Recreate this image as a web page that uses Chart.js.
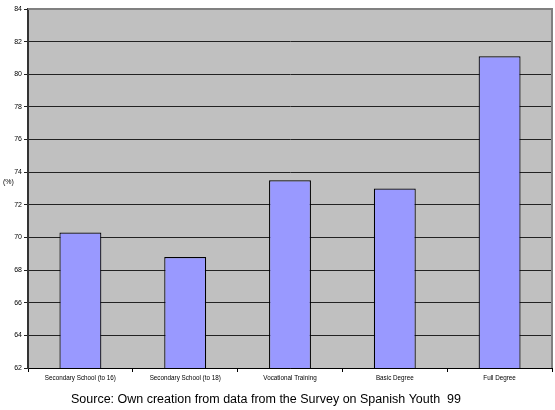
<!DOCTYPE html>
<html>
<head>
<meta charset="utf-8">
<script src="https://cdn.jsdelivr.net/npm/chart.js@4"></script>
<style>
    body { margin: 0; background: #fff; }
    canvas { display: block; }
</style>
</head>
<body>
<canvas id="myChart" width="555" height="410"></canvas>
<script>
var categories = ['Secondary School (to 16)', 'Secondary School (to 18)', 'Vocational Training', 'Basic Degree', 'Full Degree'];
var values = [70.3, 68.8, 73.5, 73.0, 81.1];
var yMin = 62;
var yMax = 84;
var yStep = 2;
var yLabel = '(%)';
var sourceText = 'Source: Own creation from data from the Survey on Spanish Youth  99';

var plotBackground = {
    id: 'plotBackground',
    beforeDraw: function (chart) {
        var a = chart.chartArea;
        var c = chart.ctx;
        c.save();
        c.fillStyle = '#c0c0c0';
        c.fillRect(a.left, a.top, a.right - a.left, a.bottom - a.top);
        c.restore();
    },
    afterDraw: function (chart) {
        var a = chart.chartArea;
        var c = chart.ctx;
        c.save();
        // plot border
        c.strokeStyle = '#808080';
        c.lineWidth = 2;
        c.beginPath();
        c.moveTo(a.left, a.top);
        c.lineTo(a.right, a.top);
        c.lineTo(a.right, a.bottom);
        c.stroke();
        // texts
        c.fillStyle = '#000';
        c.font = '7px "Liberation Sans", Arial, sans-serif';
        c.textBaseline = 'middle';
        c.textAlign = 'left';
        c.fillText(yLabel, 3, 182);
        c.font = '12.5px "Liberation Sans", Arial, sans-serif';
        c.textAlign = 'center';
        c.fillText(sourceText, 266, 400);
        c.restore();
    }
};

var ctx = document.getElementById('myChart');

new Chart(ctx, {
    type: 'bar',
    data: {
        labels: categories,
        datasets: [{
            data: values,
            backgroundColor: '#9999ff',
            borderColor: '#000',
            borderWidth: 1.2,
            categoryPercentage: 0.8,
            barPercentage: 0.5
        }]
    },
    options: {
        responsive: false,
        animation: false,
        layout: {
            padding: { left: 0, right: 3, top: 9, bottom: 24 }
        },
        plugins: {
            legend: { display: false },
            tooltip: { enabled: false }
        },
        scales: {
            x: {
                afterFit: function (scale) { scale.height = 18; },
                grid: {
                    offset: true,
                    drawOnChartArea: false,
                    drawTicks: true,
                    tickLength: 4,
                    color: '#000'
                },
                border: { color: '#000', width: 1 },
                ticks: {
                    color: '#000',
                    padding: 2,
                    maxRotation: 0,
                    autoSkip: false,
                    font: { family: '"Liberation Sans", Arial, sans-serif', size: 6.3 }
                }
            },
            y: {
                min: yMin,
                max: yMax,
                afterFit: function (scale) { scale.width = 28; },
                grid: {
                    color: '#222',
                    lineWidth: 1,
                    tickLength: 4
                },
                border: { color: '#333', width: 2 },
                ticks: {
                    stepSize: yStep,
                    color: '#000',
                    padding: 2,
                    font: { family: '"Liberation Sans", Arial, sans-serif', size: 7 }
                }
            }
        }
    },
    plugins: [plotBackground]
});
</script>
</body>
</html>
